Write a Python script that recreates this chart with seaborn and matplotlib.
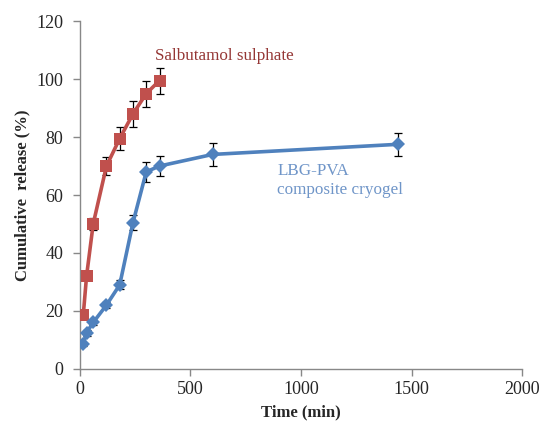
import matplotlib
matplotlib.use('Agg')
import matplotlib.pyplot as plt
import seaborn as sns
import pandas as pd

# 데이터
sal_time = [15, 30, 60, 120, 180, 240, 300, 360]
sal_release = [18.5, 32, 50, 70, 79.5, 88, 95, 99.5]
sal_err = [1, 1.5, 2, 3, 4, 4.5, 4.5, 4.5]

lbg_time = [15, 30, 60, 120, 180, 240, 300, 360, 600, 1440]
lbg_release = [8.5, 12.5, 16, 22, 29, 50.5, 68, 70, 74, 77.5]
lbg_err = [0.5, 1, 1, 1, 1.5, 2.5, 3.5, 3.5, 4, 4]

sal_df = pd.DataFrame({'time': sal_time, 'release': sal_release})
lbg_df = pd.DataFrame({'time': lbg_time, 'release': lbg_release})

sns.set_style('white')
plt.rcParams['font.family'] = ['Liberation Serif', 'DejaVu Serif']

fig = plt.figure(figsize=(5.4, 4.23), dpi=100)
ax = fig.add_axes([0.148, 0.128, 0.819, 0.822])

red = '#C0504D'
blue = '#4F81BD'

# 오차막대
ax.errorbar(sal_time, sal_release, yerr=sal_err, fmt='none', ecolor='black',
            elinewidth=0.9, capsize=3, capthick=0.9, zorder=1)
ax.errorbar(lbg_time, lbg_release, yerr=lbg_err, fmt='none', ecolor='black',
            elinewidth=0.9, capsize=3, capthick=0.9, zorder=1)

sns.lineplot(data=sal_df, x='time', y='release', ax=ax, color=red, lw=2.6,
             marker='s', markersize=8.5, markeredgewidth=0, zorder=3)
sns.lineplot(data=lbg_df, x='time', y='release', ax=ax, color=blue, lw=2.6,
             marker='D', markersize=7, markeredgewidth=0, zorder=3)

ax.text(341, 108, 'Salbutamol sulphate', color='#953735', fontsize=12.3, va='center')
ax.text(893, 65, 'LBG-PVA\ncomposite cryogel', color='#6F95C8', fontsize=12.3,
        va='center', linespacing=1.3)

ax.set_xlim(0, 2000)
ax.set_ylim(0, 120)
ax.set_xticks([0, 500, 1000, 1500, 2000])
ax.set_yticks(range(0, 121, 20))
ax.tick_params(axis='both', labelsize=13, direction='out', length=5,
               color='#888888', width=1, bottom=True, left=True)
ax.tick_params(axis='y', pad=7)
ax.set_xlabel('Time (min)', fontsize=12, fontweight='bold', labelpad=5)
ax.set_ylabel('Cumulative  release (%)', fontsize=12, fontweight='bold', labelpad=4)

sns.despine(ax=ax)
for s in ['left', 'bottom']:
    ax.spines[s].set_color('#888888')
    ax.spines[s].set_linewidth(1)

fig.savefig('out.png', dpi=100)
